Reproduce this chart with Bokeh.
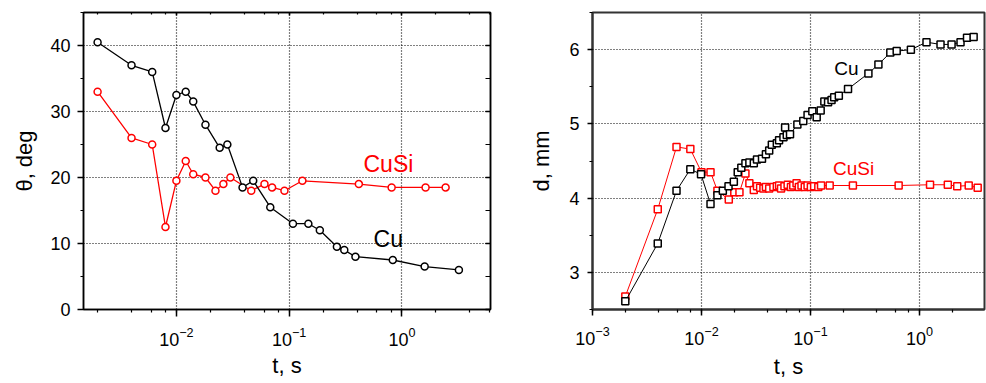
from bokeh.plotting import figure
from bokeh.layouts import row
from bokeh.models import (LogAxis, LinearAxis, SingleIntervalTicker, LogTicker,
                          Label, Range1d)
from bokeh.embed import file_html
from bokeh.resources import INLINE

FONT = "Liberation Sans"

# ---------------- data: left panel (contact angle) ----------------
t_cu_left = [0.002, 0.004, 0.0061, 0.008, 0.010, 0.0121, 0.0141, 0.0181, 0.0242, 0.0283,
             0.0386, 0.048, 0.068, 0.108, 0.148, 0.187, 0.265, 0.308, 0.387, 0.83, 1.59, 3.2]
theta_cu = [40.5, 37.0, 36.0, 27.5, 32.5, 33.0, 31.5, 28.0, 24.5, 25.0,
            18.5, 19.5, 15.5, 13.0, 13.0, 12.0, 9.5, 9.0, 8.0, 7.5, 6.5, 6.0]
t_cusi_left = [0.002, 0.004, 0.0061, 0.008, 0.010, 0.0121, 0.0141, 0.0181, 0.0222, 0.0261,
               0.0301, 0.0461, 0.0604, 0.0706, 0.0908, 0.131, 0.415, 0.81, 1.62, 2.44]
theta_cusi = [33.0, 26.0, 25.0, 12.5, 19.5, 22.5, 20.5, 20.0, 18.0, 19.0,
              20.0, 18.0, 19.0, 18.5, 18.0, 19.5, 19.0, 18.5, 18.5, 18.5]

# ---------------- data: right panel (diameter) ----------------
t_cu_right = [0.002, 0.00397, 0.0059, 0.0079, 0.0099, 0.0121, 0.0140, 0.0157, 0.0177, 0.0198,
              0.0215, 0.0232, 0.0253, 0.0275, 0.0302, 0.0323, 0.0359, 0.0390, 0.0418, 0.0442,
              0.0491, 0.0515, 0.0565, 0.0585, 0.0606, 0.0649, 0.0758, 0.0859, 0.094, 0.104,
              0.114, 0.124, 0.134, 0.145, 0.156, 0.165, 0.182, 0.221, 0.340, 0.420,
              0.540, 0.618, 0.834, 1.16, 1.56, 1.97, 2.38, 2.73, 3.14]
d_cu = [2.61, 3.39, 4.10, 4.39, 4.32, 3.92, 4.04, 4.10, 4.16, 4.22,
        4.35, 4.41, 4.47, 4.48, 4.47, 4.52, 4.53, 4.59, 4.64, 4.72,
        4.74, 4.78, 4.82, 4.95, 4.85, 4.86, 4.99, 5.04, 5.12, 5.17,
        5.09, 5.18, 5.30, 5.29, 5.32, 5.36, 5.38, 5.47, 5.68, 5.80,
        5.96, 5.98, 6.00, 6.10, 6.07, 6.07, 6.10, 6.16, 6.17]
t_cusi_right = [0.002, 0.00397, 0.0059, 0.0079, 0.0100, 0.0121, 0.0140, 0.0178, 0.0200, 0.0223,
                0.0253, 0.0275, 0.0302, 0.0323, 0.0345, 0.0370, 0.0390, 0.0418, 0.0457, 0.0491,
                0.0515, 0.0537, 0.0577, 0.0617, 0.0662, 0.0695, 0.0745, 0.0782, 0.0827, 0.0886,
                0.0940, 0.1008, 0.108, 0.118, 0.125, 0.150, 0.245, 0.644, 1.25, 1.82,
                2.22, 2.83, 3.42]
d_cusi = [2.675, 3.85, 4.69, 4.66, 4.35, 4.35, 4.10, 3.98, 4.08, 4.08,
          4.33, 4.20, 4.11, 4.16, 4.14, 4.13, 4.15, 4.13, 4.15, 4.16,
          4.17, 4.13, 4.16, 4.18, 4.15, 4.17, 4.20, 4.15, 4.17, 4.15,
          4.17, 4.15, 4.16, 4.15, 4.17, 4.17, 4.17, 4.17, 4.18, 4.18,
          4.16, 4.17, 4.14]

x_label = "t, s"
y_label_left = "θ, deg"
y_label_right = "d, mm"


def style_axis(ax, tick_out=6, minor_out=3):
    ax.axis_line_color = "black"
    ax.axis_line_width = 1.5
    ax.major_tick_line_color = "black"
    ax.minor_tick_line_color = "black"
    ax.major_tick_line_width = 1.5
    ax.minor_tick_line_width = 1.2
    ax.major_tick_out = tick_out
    ax.major_tick_in = 0
    ax.minor_tick_out = minor_out
    ax.minor_tick_in = 0
    ax.major_label_text_font = FONT
    ax.major_label_text_font_size = "18px"
    ax.major_label_text_color = "black"
    ax.axis_label_text_font = FONT
    ax.axis_label_text_font_size = "22px"
    ax.axis_label_text_font_style = "normal"
    ax.axis_label_text_color = "black"


def style_grid(p):
    for g in (p.xgrid, p.ygrid):
        g.grid_line_color = "black"
        g.grid_line_dash = "1 2"
        g.grid_line_width = 1.2
        g.grid_line_alpha = 1.0


# ---------------- left figure ----------------
p1 = figure(width=526, height=383, x_axis_type="log",
            x_range=Range1d(1.5e-3, 6.1), y_range=Range1d(0, 45),
            min_border_left=83, min_border_right=36, min_border_top=12, min_border_bottom=71,
            output_backend="svg", toolbar_location=None)
p1.outline_line_color = "black"
p1.outline_line_width = 1.5
p1.xaxis.ticker = LogTicker()
p1.yaxis.ticker = SingleIntervalTicker(interval=10, num_minor_ticks=2)
style_axis(p1.xaxis[0], 7, 3)
style_axis(p1.yaxis[0], 6, 3)
p1.xaxis.major_label_standoff = 10
p1.xaxis.axis_label = x_label
p1.xaxis.axis_label_standoff = 4
p1.yaxis.axis_label = y_label_left
p1.yaxis.major_label_standoff = 7
p1.yaxis.axis_label_standoff = 10
style_grid(p1)

# mirrored tick marks (no labels) on top and right of the left panel
top1 = LogAxis(ticker=LogTicker())
right1 = LinearAxis(ticker=SingleIntervalTicker(interval=10, num_minor_ticks=2))
for ax in (top1, right1):
    style_axis(ax)
    ax.major_tick_out = 0
    ax.minor_tick_out = 0
    ax.major_label_text_font_size = "1px"
    ax.major_label_text_color = None
    ax.major_label_standoff = 0
top1.major_tick_in = 3
top1.minor_tick_in = 2
right1.major_tick_in = 5
right1.minor_tick_in = 5
p1.add_layout(top1, "above")
p1.add_layout(right1, "right")

p1.line(t_cusi_left, theta_cusi, line_color="red", line_width=1.3)
p1.scatter(t_cusi_left, theta_cusi, marker="circle", size=7, fill_color="white",
           line_color="red", line_width=1.5)
p1.line(t_cu_left, theta_cu, line_color="black", line_width=1.3)
p1.scatter(t_cu_left, theta_cu, marker="circle", size=7, fill_color="white",
           line_color="black", line_width=1.5)

p1.add_layout(Label(x=0.456, y=22.0, text="CuSi", text_color="red", text_font=FONT,
                    text_font_size="23px", text_baseline="alphabetic"))
p1.add_layout(Label(x=0.56, y=10.7, text="Cu", text_color="black", text_font=FONT,
                    text_font_size="23px", text_baseline="alphabetic"))

# ---------------- right figure ----------------
p2 = figure(width=460, height=383, x_axis_type="log",
            x_range=Range1d(1e-3, 3.95), y_range=Range1d(2.5, 6.5),
            min_border_left=63, min_border_right=2, min_border_top=10, min_border_bottom=74,
            output_backend="svg", toolbar_location=None)
p2.outline_line_color = "#333333"
p2.outline_line_width = 2
p2.xaxis.ticker = LogTicker()
p2.yaxis.ticker = SingleIntervalTicker(interval=1, num_minor_ticks=2)
style_axis(p2.xaxis[0], 6, 3)
style_axis(p2.yaxis[0], 5, 3)
for ax in (p2.xaxis[0], p2.yaxis[0]):
    ax.axis_line_color = "#333333"
    ax.axis_line_width = 2
p2.xaxis.major_label_standoff = 10
p2.xaxis.axis_label = x_label
p2.xaxis.axis_label_standoff = 6
p2.yaxis.axis_label = y_label_right
p2.yaxis.major_label_standoff = 8
p2.yaxis.axis_label_standoff = 12
style_grid(p2)

p2.line(t_cusi_right, d_cusi, line_color="red", line_width=1.0)
p2.scatter(t_cusi_right, d_cusi, marker="square", size=7, fill_color="white",
           line_color="red", line_width=1.5)
p2.line(t_cu_right, d_cu, line_color="black", line_width=1.0)
p2.scatter(t_cu_right, d_cu, marker="square", size=7, fill_color="white",
           line_color="black", line_width=1.5)

p2.add_layout(Label(x=0.165, y=5.74, text="Cu", text_color="black", text_font=FONT,
                    text_font_size="19px", text_baseline="alphabetic"))
p2.add_layout(Label(x=0.161, y=4.395, text="CuSi", text_color="red", text_font=FONT,
                    text_font_size="19px", text_baseline="alphabetic"))

layout = row(p1, p2)
open("out.html", "w").write(file_html(layout, INLINE))
